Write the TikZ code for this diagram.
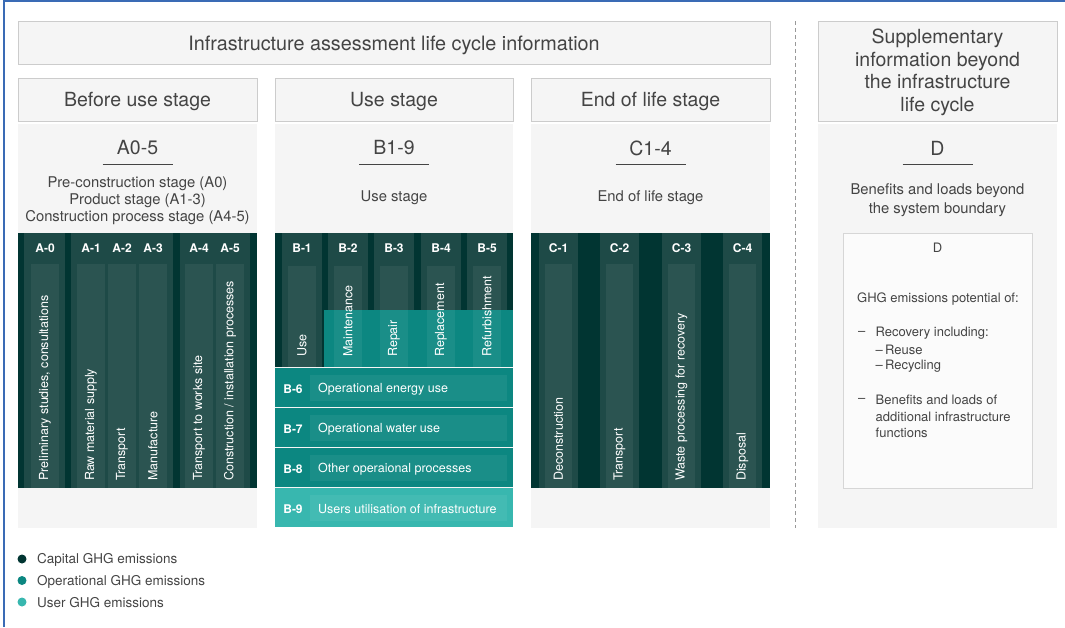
\documentclass[tikz,border=0pt]{standalone}
\usepackage{fontspec}
\setmainfont{TeX Gyre Heros}
\usetikzlibrary{positioning}
\definecolor{capital}{HTML}{013532}
\definecolor{colbar}{HTML}{1E4A47}
\definecolor{operational}{HTML}{0C8781}
\definecolor{user}{HTML}{38B7AF}
\definecolor{panel}{HTML}{F5F5F5}
\definecolor{edge}{HTML}{CCCCCC}
\definecolor{ink}{HTML}{444444}
\definecolor{frame}{HTML}{3A6BB5}

\tikzset{
  hdr/.style={font=\fontsize{19.5}{22.5}\selectfont, text=ink, align=center},
  sub/.style={font=\fontsize{14.8}{17}\selectfont, text=ink, align=center},
  code/.style={font=\fontsize{12}{14}\selectfont\bfseries, text=white},
  vlabel/.style={font=\fontsize{12.5}{14}\selectfont, text=white, rotate=90, anchor=west, inner sep=0pt},
  hlabel/.style={font=\fontsize{12.5}{14}\selectfont, text=white, anchor=west, inner sep=0pt},
  small/.style={font=\fontsize{13}{16.8}\selectfont, text=ink, anchor=west, inner sep=0pt, align=left},
  legend/.style={font=\fontsize{13.5}{16}\selectfont, text=ink, anchor=west, inner sep=0pt},
  box/.style={fill=panel, draw=edge, line width=1pt},
  inner/.style={fill=white, fill opacity=.06},
}

\begin{document}
\begin{tikzpicture}[x=1pt,y=-1pt]
  \useasboundingbox (0,0) rectangle (1065,627);
  \draw[frame, line width=1.2pt] (4,627) -- (4,1) -- (1065,1);

  % headers
  \draw[box] (18,21) rectangle (770,64);
  \node[hdr, font=\fontsize{19.8}{22.5}\selectfont] (title) at (394,45) {Infrastructure assessment life cycle information};
  \draw[box] (18,78) rectangle (257,121);
  \node[hdr] (hA) at (137.5,101.5) {Before use stage};
  \draw[box] (275,78) rectangle (513,121);
  \node[hdr] (hB) at (394,101.5) {Use stage};
  \draw[box] (531,78) rectangle (770,121);
  \node[hdr] (hC) at (650.5,101.5) {End of life stage};
  \draw[box] (818,21) rectangle (1057,121);
  \node[hdr] (hD) at (937.5,72.5) {Supplementary\\information beyond\\the infrastructure\\life cycle};

  \draw[dashed, dash pattern=on 4pt off 3pt, gray!80] (795,21) -- (795,528);

  % panels
  \fill[panel] (18,124) rectangle (257,528);
  \fill[panel] (275,124) rectangle (513,527);
  \fill[panel] (531,124) rectangle (770,528);
  \fill[panel] (818,124) rectangle (1057,528);

  \node[hdr] (cA) at (137.5,148) {A0-5};
  \node[hdr] (cB) at (394,148) {B1-9};
  \node[hdr] (cC) at (650.5,148) {C1-4};
  \node[hdr] (cD) at (937.5,148) {D};
  \foreach \n in {cA,cB,cC,cD}
    \draw[ink, line width=.8pt] (\n.center) ++(-35,16) -- ++(70,0);

  \node[sub] (sA) at (137.5,201) {Pre-construction stage (A0)\\Product stage (A1-3)\\Construction process stage (A4-5)};
  \node[sub] (sB) at (394,198) {Use stage};
  \node[sub] (sC) at (650.5,198) {End of life stage};
  \node[sub, font=\fontsize{14.8}{19.5}\selectfont] (sD) at (937.5,200) {Benefits and loads beyond\\the system boundary};

  % before use
  \fill[capital] (18,233) rectangle (257,488);
  \foreach \l/\r in {24/65, 71/173, 180/250}
    \fill[colbar] (\l,233) rectangle (\r,488);
  \foreach \l/\c/\t in {31/A-0/{Preliminary studies, consultations}, 77/A-1/Raw material supply,
      108/A-2/Transport, 139/A-3/Manufacture, 185/A-4/Transport to works site,
      216/A-5/{Construction / installation processes}} {
    \fill[inner] (\l,264) rectangle ++(27.5,224);
    \node[code] (\c) at (\l+14,248) {\c};
    \node[vlabel] (t\c) at (\l+14,481) {\t};
  }

  % use
  \fill[capital] (275,233) rectangle (513,367);
  \foreach \l in {282,328,374,421,467}
    \fill[colbar] (\l,233) rectangle ++(40,134);
  \fill[operational] (324,310) rectangle (513,367);
  \foreach \l/\c/\t in {288/B-1/Use, 334/B-2/Maintenance, 380/B-3/Repair,
      427/B-4/Replacement, 473/B-5/Refurbishment} {
    \fill[inner] (\l,266) rectangle ++(27.5,101);
    \node[code] (\c) at (\l+14,248) {\c};
    \node[vlabel] (t\c) at (\l+14,357) {\t};
  }
  \foreach \y/\c/\t/\col in {368/B-6/Operational energy use/operational,
      408/B-7/Operational water use/operational,
      448/B-8/Other operaional processes/operational,
      488/B-9/Users utilisation of infrastructure/user} {
    \fill[\col] (275,\y) rectangle (513,\y+39);
    \fill[inner] (310,\y+7) rectangle (507,\y+33);
    \node[code] (\c) at (293,\y+21) {\c};
    \node[hlabel] (t\c) at (318,\y+21) {\t};
  }

  % end of life
  \fill[capital] (531,233) rectangle (770,488);
  \foreach \l/\c/\t in {539/C-1/Deconstruction, 600/C-2/Transport,
      662/C-3/Waste processing for recovery, 723/C-4/Disposal} {
    \fill[colbar] (\l,233) rectangle ++(39,255);
    \fill[inner] (\l+6,264) rectangle ++(27,224);
    \node[code] (\c) at (\l+19.5,248) {\c};
    \node[vlabel] (t\c) at (\l+19.5,481) {\t};
  }

  % beyond
  \draw[fill=white!60!panel, draw=edge!80] (843,233) rectangle (1032,488);
  \node[small, anchor=center] (dD) at (937.5,248) {D};
  \node[small] (d1) at (857,299) {GHG emissions potential of:};
  \node[small] (d2) at (858,333) {--};
  \node[small] (d3) at (875.5,333) {Recovery including:};
  \node[small] (d4) at (875.5,350) {--\,Reuse};
  \node[small] (d5) at (875.5,366.5) {--\,Recycling};
  \node[small] (d6) at (858,400) {--};
  \node[small] (d7) at (875.5,416.5) {Benefits and loads of\\additional infrastructure\\functions};

  % legend
  \fill[capital] (22,559) circle[radius=4.5pt];
  \node[legend] (lc) at (37,560) {Capital GHG emissions};
  \fill[operational] (22,580.5) circle[radius=4.5pt];
  \node[legend] (lo) at (37,581.5) {Operational GHG emissions};
  \fill[user] (22,602) circle[radius=4.5pt];
  \node[legend] (lu) at (37,603) {User GHG emissions};
\end{tikzpicture}
\end{document}
